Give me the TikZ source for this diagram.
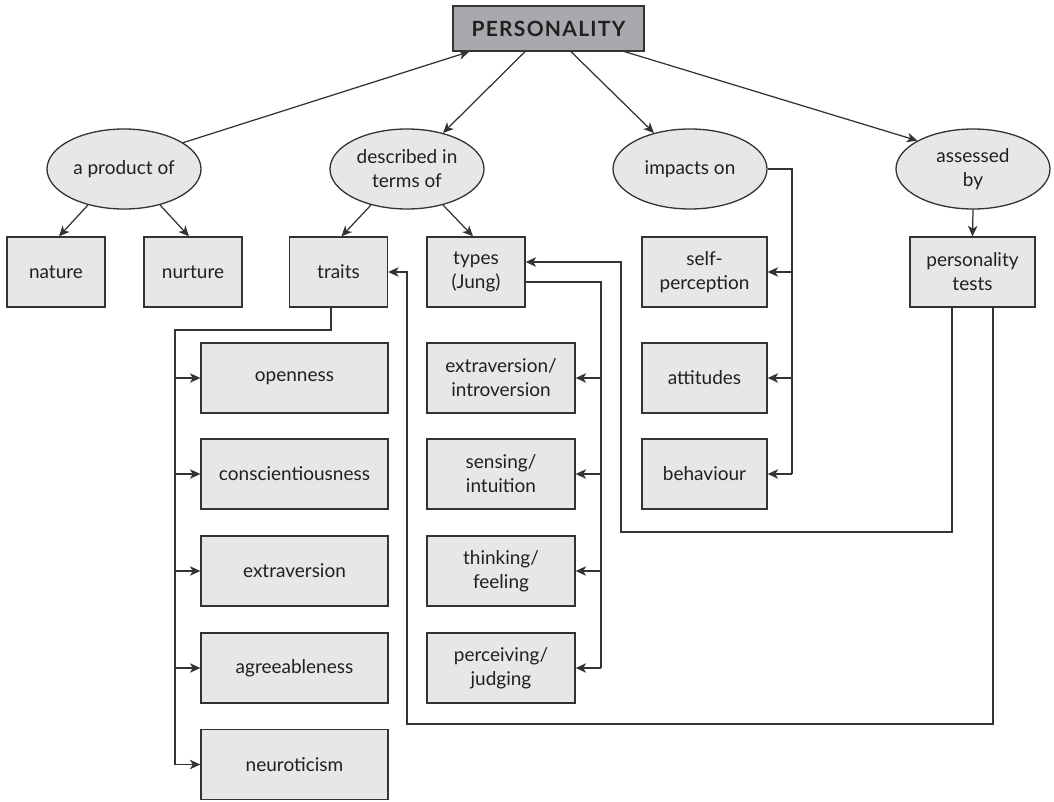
\documentclass[tikz,border=0pt]{standalone}
\usepackage{fontspec}
\setmainfont{Lato}
\usetikzlibrary{arrows.meta,shapes.geometric}
\definecolor{boxfill}{HTML}{E6E7E8}
\definecolor{topfill}{HTML}{A7A9AC}
\definecolor{ink}{HTML}{231F20}
\definecolor{linegray}{HTML}{333333}
\tikzset{
  base/.style={draw=linegray, line width=1.3pt, text=ink, align=center, inner sep=0pt,
    font=\fontsize{19}{24}\selectfont},
  box/.style={base, rectangle, fill=boxfill, minimum height=70pt},
  oval/.style={base, ellipse, fill=boxfill, minimum width=154pt, minimum height=80pt},
  plain/.style={draw=linegray, line width=1.25pt},
  link/.style={plain, -{Stealth[length=10.5pt,width=9.5pt,inset=3pt]}},
}
\begin{document}
\begin{tikzpicture}[x=1pt,y=-1pt]
\useasboundingbox (0,0) rectangle (1054,802);

% root
\node[box, fill=topfill, minimum width=191pt, minimum height=45pt,
      font=\bfseries\fontsize{21}{24}\selectfont\addfontfeature{LetterSpace=6}] (pers) at (548.5,28.5) {PERSONALITY};

% linking phrases
\node[oval] (prod) at (124,169) {a product of};
\node[oval] (desc) at (407,169) {described in\\terms of};
\node[oval] (imp)  at (690,169) {impacts on};
\node[oval] (ass)  at (973,169) {assessed\\by};

% first row of concepts
\node[box, minimum width=98pt]  (nature) at (56,272)    {nature};
\node[box, minimum width=98pt]  (nurture) at (193,272)  {nurture};
\node[box, minimum width=98pt]  (traits) at (338.5,272) {traits};
\node[box, minimum width=98pt]  (types) at (476,272)    {types\\(Jung)};
\node[box, minimum width=125pt] (selfp) at (704.5,272)  {self-\\perception};
\node[box, minimum width=125pt] (tests) at (972.5,272)  {personality\\tests};

% the big five traits
\node[box, minimum width=187pt] (open)  at (294.5,378) {openness};
\node[box, minimum width=187pt] (consc) at (294.5,474) {conscientiousness};
\node[box, minimum width=187pt] (extr)  at (294.5,571) {extraversion};
\node[box, minimum width=187pt] (agree) at (294.5,668) {agreeableness};
\node[box, minimum width=187pt] (neuro) at (294.5,764.5) {neuroticism};

% Jungian type dimensions
\node[box, minimum width=148pt] (extint) at (501,378) {extraversion/\\introversion};
\node[box, minimum width=148pt] (sens)   at (501,474) {sensing/\\intuition};
\node[box, minimum width=148pt] (think)  at (501,571) {thinking/\\feeling};
\node[box, minimum width=148pt] (perc)   at (501,668) {perceiving/\\judging};

% what personality impacts on
\node[box, minimum width=125pt] (att)   at (704.5,378) {attitudes};
\node[box, minimum width=125pt] (behav) at (704.5,474) {behaviour};

% links around the root
\draw[link] (prod.24) -- ([xshift=17pt]pers.south west);
\draw[link] ([xshift=-23.5pt]pers.south) -- (desc.45);
\draw[link] ([xshift=22.5pt]pers.south) -- (imp.135);
\draw[link] ([xshift=-20pt]pers.south east) -- (ass.153);

% links from the phrases
\draw[link] (prod.225) -- ([xshift=3pt]nature.north);
\draw[link] (prod.-45) -- ([xshift=-4pt]nurture.north);
\draw[link] (desc.225) -- ([xshift=3pt]traits.north);
\draw[link] (desc.-45) -- ([xshift=-3pt]types.north);
\draw[link] (ass.south) -- (tests.north);

% traits bus
\coordinate (tb) at (175,330);
\draw[plain] ([xshift=-7.5pt]traits.south) |- (tb) -- (tb |- neuro.west);
\foreach \n in {open,consc,extr,agree,neuro}
  \draw[link] (tb |- \n.west) -- (\n.west);

% types bus
\coordinate (yb) at (601,282);
\draw[plain] ([yshift=-10pt]types.east) -- (yb) -- (yb |- perc.east);
\foreach \n in {extint,sens,think,perc}
  \draw[link] (yb |- \n.east) -- (\n.east);

% impacts bus
\coordinate (ib) at (792,169);
\draw[plain] (imp.east) -- (ib) -- (ib |- behav.east);
\foreach \n in {selfp,att,behav}
  \draw[link] (ib |- \n.east) -- (\n.east);

% personality tests feed back to types and traits
\coordinate (la) at (621,532);
\coordinate (lb) at (407,724);
\draw[link] ([xshift=-20.5pt]tests.south) |- (la) |- ([yshift=10pt]types.east);
\draw[link] ([xshift=20.5pt]tests.south) |- (lb) |- (traits.east);
\end{tikzpicture}
\end{document}
